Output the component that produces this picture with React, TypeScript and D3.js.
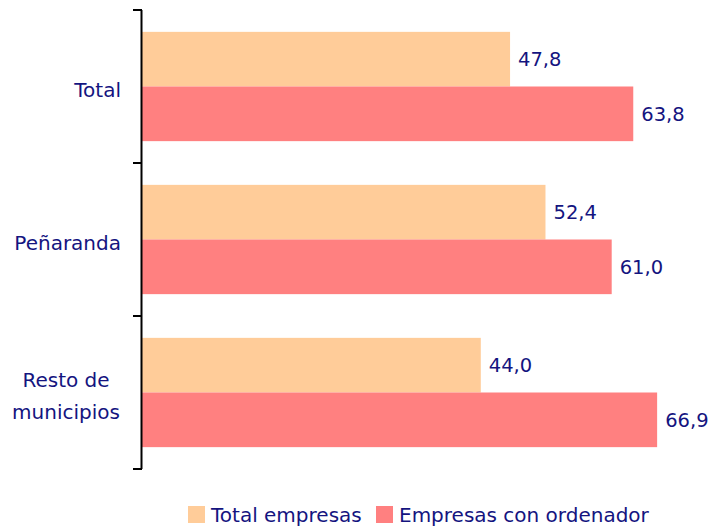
import React from "react";
import * as d3 from "d3";

const categories = ["Total", "Peñaranda", "Resto de municipios"];
const categoryLines = [["Total"], ["Peñaranda"], ["Resto de", "municipios"]];
const seriesNames = ["Total empresas", "Empresas con ordenador"];
const totalEmpresas = [47.8, 52.4, 44.0];
const empresasOrdenador = [63.8, 61.0, 66.9];
const colors = ["#FFCC99", "#FF8080"];

const W = 714;
const H = 527;
const TEXT = "#14147f";
const FONT = "'DejaVu Sans', Verdana, sans-serif";

export default function App() {
  const x = d3.scaleLinear().domain([0, 70]).range([142, 142 + 70 * 7.7]);
  const y = d3.scaleBand<string>().domain(categories).range([10, 469]).paddingInner(0).paddingOuter(0);
  const inner = d3.scaleBand<number>().domain([0, 1]).range([0, y.bandwidth()]).paddingOuter(0.4).paddingInner(0);
  const series = [totalEmpresas, empresasOrdenador];
  const ticks = [...categories.map((c) => y(c) as number), 469];
  const fmt = (v: number) => d3.format(".1f")(v).replace(".", ",");

  return (
    <svg width={W} height={H} style={{ position: "absolute", left: 0, top: 0 }} fontFamily={FONT}>
      {categories.map((c, ci) =>
        series.map((s, si) => {
          const y0 = (y(c) as number) + (inner(si) as number);
          return (
            <g key={c + si}>
              <rect x={x(0)} y={y0} width={x(s[ci]) - x(0)} height={inner.bandwidth()} fill={colors[si]} />
              <text x={x(s[ci]) + 8} y={y0 + inner.bandwidth() / 2} dy="0.35em" fontSize={19.5} fill={TEXT}>
                {fmt(s[ci])}
              </text>
            </g>
          );
        })
      )}
      <line x1={141.5} x2={141.5} y1={10} y2={469} stroke="#000" strokeWidth={2} />
      {ticks.map((t, i) => (
        <line key={i} x1={133} x2={142} y1={t} y2={t} stroke="#000" strokeWidth={2} />
      ))}
      {categories.map((c, ci) => {
        const lines = categoryLines[ci];
        const cy = (y(c) as number) + y.bandwidth() / 2;
        const multi = lines.length > 1;
        return lines.map((ln, li) => (
          <text
            key={c + li}
            x={multi ? 66 : 121}
            y={cy + 3 + (li - (lines.length - 1) / 2) * 32}
            dy="0.35em"
            textAnchor={multi ? "middle" : "end"}
            fontSize={20}
            fill={TEXT}
          >
            {ln}
          </text>
        ));
      })}
      {seriesNames.map((n, i) => {
        const lx = i === 0 ? 188 : 376;
        return (
          <g key={n}>
            <rect x={lx} y={506} width={17} height={17} fill={colors[i]} />
            <text x={lx + 23} y={514.5} dy="0.35em" fontSize={20} fill={TEXT}>
              {n}
            </text>
          </g>
        );
      })}
    </svg>
  );
}
